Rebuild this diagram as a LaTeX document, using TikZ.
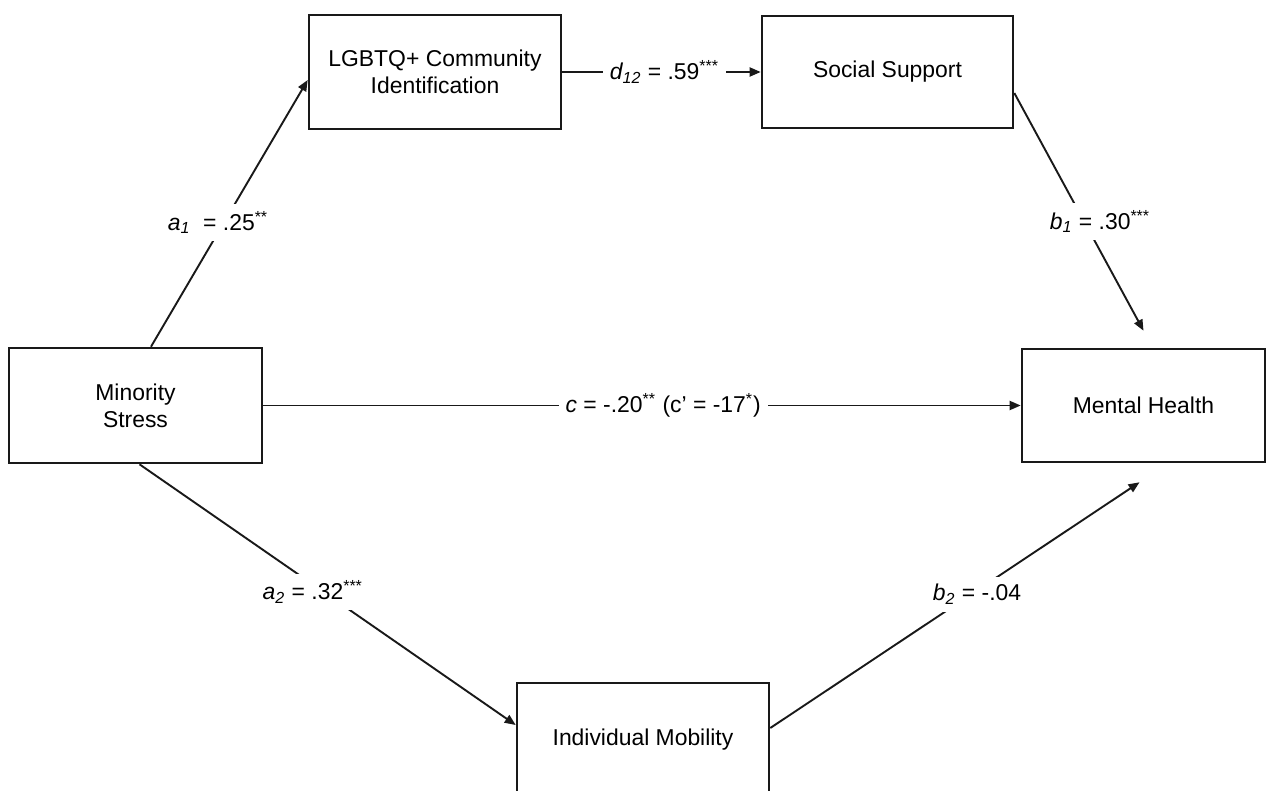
\documentclass[tikz,border=0pt]{standalone}
\usepackage{fontspec}
\setmainfont{Liberation Sans}
\usetikzlibrary{arrows.meta}
\begin{document}
\begin{tikzpicture}[x=0.5pt,y=-0.5pt,
  var/.style={draw=black!90, line width=1.3pt, inner sep=0pt, align=center,
    font=\fontsize{11.45}{13.5}\selectfont, text=black},
  link/.style={line width=0.95pt, draw=black!90},
  arr/.style={link, -{Triangle[length=5.5pt,width=4.5pt]}},
  coef/.style={fill=white, inner xsep=3.5pt, inner ysep=3.5pt, text=black,
    font=\fontsize{11.45}{13.5}\selectfont}]
\useasboundingbox (0,0) rectangle (1275,791);
\clip (0,0) rectangle (1275,791);

% variables
\node[var, minimum width=126pt, minimum height=57pt] (lgbtq) at (435,72) {LGBTQ+ Community\\Identification};
\node[var, minimum width=125.5pt, minimum height=56pt] (soc) at (887.5,72) {Social Support};
\node[var, minimum width=126.5pt, minimum height=57.5pt] (ms) at (135.5,405.5) {Minority\\Stress};
\node[var, minimum width=121.5pt, minimum height=56.5pt] (mh) at (1143.5,405.5) {Mental Health};
\node[var, minimum width=126pt, minimum height=57pt] (im) at (643,740) {Individual Mobility};

% paths with coefficients
\draw[arr] ([xshift=7.75pt]ms.north) -- node[coef, pos=0.466, xshift=-3pt] (la1)
  {\textit{a\textsubscript{1}} \ = .25\textsuperscript{**}} ([yshift=-4pt]lgbtq.west);
\draw[arr] (lgbtq.east) -- node[coef, pos=0.515] (ld12)
  {\textit{d\textsubscript{12}} = .59\textsuperscript{***}} (soc.west);
\draw[arr] ([yshift=-10.5pt]soc.east) -- node[coef, pos=0.54, xshift=8pt] (lb1)
  {\textit{b\textsubscript{1}} = .30\textsuperscript{***}} ([yshift=8.5pt]mh.north);
\draw[arr] (ms.east) -- node[coef, pos=0.528] (lc)
  {\textit{c} = -.20\textsuperscript{**} (c’ = -17\textsuperscript{*})} (mh.west);
\draw[arr] ([xshift=2pt]ms.south) -- node[coef, pos=0.49, xshift=-5.5pt] (la2)
  {\textit{a\textsubscript{2}} = .32\textsuperscript{***}} ([yshift=7.5pt]im.west);
\draw[arr] ([yshift=6pt]im.east) -- node[coef, pos=0.56, yshift=-2pt] (lb2)
  {\textit{b\textsubscript{2}} = -.04} ([xshift=-2pt,yshift=-9.5pt]mh.south);
\end{tikzpicture}
\end{document}
